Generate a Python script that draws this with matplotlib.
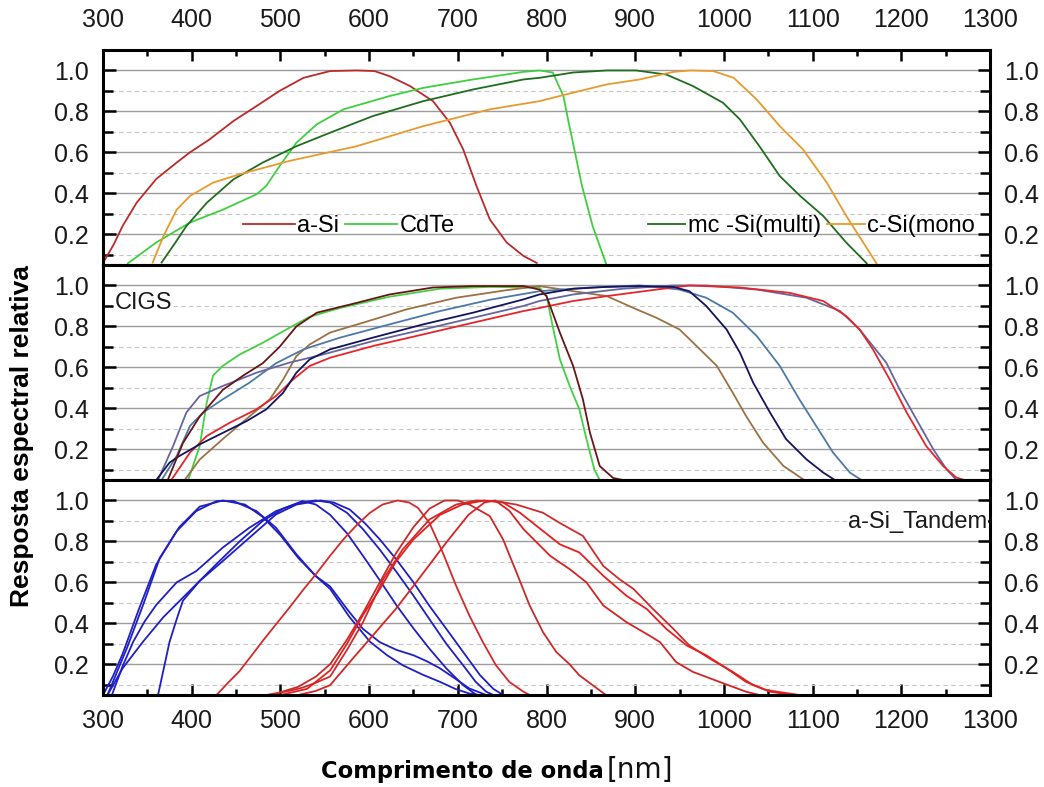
import matplotlib
matplotlib.use('Agg')
import matplotlib.pyplot as plt
from matplotlib.ticker import FixedLocator, MultipleLocator

plt.rcParams['font.family'] = ['Liberation Sans', 'DejaVu Sans']

# ---- painel superior: tecnologias de silicio e CdTe ----
asi_nm = [300, 312, 322, 338, 360, 383, 398, 420, 447, 473, 499, 526, 556, 586, 606, 623, 646, 672, 691, 706, 721, 736, 755, 774, 789]
asi = [0.06, 0.15, 0.24, 0.355, 0.47, 0.55, 0.60, 0.663, 0.753, 0.826, 0.90, 0.964, 0.997, 1.0, 0.997, 0.972, 0.924, 0.85, 0.745, 0.615, 0.436, 0.273, 0.16, 0.094, 0.06]

cdte_nm = [328, 360, 398, 435, 473, 484, 499, 518, 541, 571, 623, 661, 717, 774, 792, 807, 819, 825, 833, 840, 852, 867]
cdte = [0.058, 0.16, 0.257, 0.32, 0.395, 0.436, 0.533, 0.647, 0.737, 0.81, 0.875, 0.915, 0.956, 0.993, 1.0, 0.99, 0.875, 0.745, 0.58, 0.436, 0.24, 0.058]

mcsi_nm = [366, 379, 394, 417, 447, 480, 518, 556, 604, 661, 717, 774, 792, 830, 868, 901, 935, 965, 999, 1018, 1040, 1063, 1086, 1112, 1138, 1161]
mcsi = [0.062, 0.143, 0.24, 0.354, 0.468, 0.55, 0.63, 0.696, 0.777, 0.85, 0.907, 0.956, 0.964, 0.99, 1.0, 1.0, 0.98, 0.924, 0.842, 0.761, 0.63, 0.484, 0.387, 0.289, 0.159, 0.058]

csi_nm = [356, 368, 383, 398, 424, 454, 510, 586, 661, 736, 792, 822, 868, 905, 943, 962, 988, 1011, 1037, 1063, 1089, 1116, 1138, 1157, 1172]
csi = [0.062, 0.19, 0.32, 0.387, 0.452, 0.493, 0.558, 0.63, 0.728, 0.81, 0.85, 0.883, 0.932, 0.956, 0.993, 1.0, 0.997, 0.964, 0.858, 0.728, 0.615, 0.452, 0.289, 0.16, 0.058]

# ---- painel do meio: amostras CIGS ----
cigs_green_nm = [396, 409, 417, 424, 435, 454, 480, 510, 533, 567, 623, 680, 736, 792, 800, 807, 815, 826, 837, 845, 854, 860]
cigs_green = [0.05, 0.216, 0.43, 0.56, 0.607, 0.663, 0.72, 0.793, 0.847, 0.89, 0.945, 0.984, 0.993, 0.99, 0.948, 0.80, 0.64, 0.51, 0.395, 0.25, 0.10, 0.05]

cigs_maroon_nm = [373, 390, 409, 435, 458, 480, 499, 518, 541, 586, 623, 672, 717, 774, 792, 800, 815, 830, 841, 849, 860, 875, 886]
cigs_maroon = [0.05, 0.23, 0.36, 0.49, 0.56, 0.62, 0.70, 0.80, 0.867, 0.915, 0.956, 0.99, 0.997, 0.997, 0.98, 0.948, 0.77, 0.607, 0.444, 0.28, 0.118, 0.06, 0.05]

cigs_tan_nm = [392, 409, 435, 465, 488, 503, 518, 533, 556, 593, 642, 698, 755, 792, 830, 868, 898, 924, 950, 973, 992, 1010, 1025, 1044, 1067, 1089]
cigs_tan = [0.05, 0.15, 0.25, 0.36, 0.444, 0.54, 0.655, 0.712, 0.77, 0.818, 0.883, 0.94, 0.977, 0.997, 0.972, 0.948, 0.89, 0.842, 0.785, 0.688, 0.607, 0.476, 0.362, 0.233, 0.119, 0.054]

cigs_steel_nm = [366, 383, 398, 413, 435, 465, 495, 526, 567, 623, 680, 736, 792, 849, 905, 950, 980, 1010, 1037, 1063, 1085, 1104, 1123, 1142, 1155]
cigs_steel = [0.05, 0.167, 0.314, 0.38, 0.444, 0.525, 0.62, 0.688, 0.745, 0.81, 0.875, 0.93, 0.972, 0.99, 1.0, 0.98, 0.94, 0.867, 0.753, 0.607, 0.444, 0.314, 0.184, 0.086, 0.05]

cigs_navy_nm = [360, 375, 386, 409, 435, 462, 484, 503, 518, 533, 556, 604, 661, 717, 774, 792, 830, 868, 905, 943, 961, 980, 1003, 1018, 1033, 1052, 1070, 1093, 1112, 1125]
cigs_navy = [0.05, 0.135, 0.167, 0.224, 0.28, 0.338, 0.395, 0.476, 0.574, 0.639, 0.688, 0.745, 0.81, 0.867, 0.932, 0.956, 0.984, 0.993, 0.997, 0.993, 0.972, 0.90, 0.785, 0.672, 0.525, 0.379, 0.25, 0.151, 0.086, 0.05]

cigs_slate_nm = [362, 379, 394, 409, 435, 473, 510, 548, 604, 661, 717, 774, 792, 830, 886, 943, 980, 1037, 1093, 1131, 1153, 1168, 1183, 1198, 1217, 1236, 1251, 1262]
cigs_slate = [0.05, 0.216, 0.38, 0.46, 0.509, 0.574, 0.623, 0.663, 0.728, 0.785, 0.842, 0.9, 0.924, 0.956, 0.984, 1.0, 1.0, 0.98, 0.94, 0.875, 0.785, 0.704, 0.623, 0.493, 0.346, 0.2, 0.102, 0.05]

cigs_red_nm = [377, 398, 417, 443, 473, 495, 514, 533, 556, 604, 661, 717, 774, 792, 830, 868, 924, 961, 1018, 1074, 1112, 1138, 1153, 1168, 1187, 1206, 1228, 1247, 1262, 1271]
cigs_red = [0.05, 0.184, 0.265, 0.33, 0.395, 0.46, 0.54, 0.607, 0.647, 0.704, 0.761, 0.818, 0.875, 0.89, 0.924, 0.948, 0.98, 1.0, 0.99, 0.964, 0.924, 0.85, 0.785, 0.688, 0.54, 0.38, 0.216, 0.119, 0.062, 0.05]

# ---- painel inferior: a-Si tandem (celula de topo em azul, de base em vermelho) ----
top1_nm = [300, 311, 322, 341, 360, 383, 405, 428, 447, 473, 495, 518, 540, 556, 575, 593, 612, 631, 650, 665, 680, 697, 713, 732]
top1 = [0.05, 0.14, 0.25, 0.476, 0.688, 0.85, 0.948, 0.997, 0.997, 0.948, 0.867, 0.737, 0.63, 0.58, 0.47, 0.373, 0.308, 0.27, 0.244, 0.215, 0.18, 0.13, 0.082, 0.05]

top2_nm = [305, 327, 346, 364, 386, 409, 435, 460, 480, 500, 520, 540, 556, 578, 601, 620, 638, 660, 680, 697, 713, 725]
top2 = [0.05, 0.28, 0.5, 0.72, 0.87, 0.97, 1.0, 0.98, 0.92, 0.83, 0.72, 0.63, 0.568, 0.43, 0.31, 0.245, 0.195, 0.15, 0.114, 0.08, 0.057, 0.05]

top3_nm = [305, 322, 345, 368, 398, 428, 454, 480, 503, 525, 540, 556, 575, 593, 612, 631, 650, 668, 687, 706, 721]
top3 = [0.05, 0.18, 0.31, 0.43, 0.56, 0.69, 0.80, 0.90, 0.96, 0.997, 0.98, 0.93, 0.84, 0.73, 0.61, 0.487, 0.375, 0.276, 0.18, 0.098, 0.05]

top4_nm = [310, 322, 334, 347, 360, 383, 405, 435, 465, 495, 522, 540, 556, 575, 593, 612, 631, 650, 668, 687, 706, 720, 732, 740]
top4 = [0.05, 0.19, 0.31, 0.41, 0.49, 0.60, 0.655, 0.77, 0.867, 0.948, 0.99, 1.0, 0.99, 0.94, 0.86, 0.76, 0.65, 0.535, 0.42, 0.30, 0.195, 0.115, 0.066, 0.05]

top5_nm = [362, 368, 375, 383, 390, 409, 435, 465, 495, 518, 545, 560, 578, 595, 612, 631, 650, 668, 687, 706, 725, 740, 751]
top5 = [0.05, 0.17, 0.31, 0.42, 0.51, 0.607, 0.704, 0.818, 0.932, 0.98, 1.0, 0.99, 0.956, 0.89, 0.81, 0.71, 0.6, 0.485, 0.373, 0.26, 0.147, 0.08, 0.05]

bot1_nm = [428, 441, 454, 467, 480, 495, 510, 525, 540, 556, 571, 586, 601, 615, 632, 645, 655, 668, 683, 698, 713, 728, 743, 758, 774, 781]
bot1 = [0.05, 0.11, 0.167, 0.24, 0.314, 0.395, 0.476, 0.56, 0.64, 0.73, 0.81, 0.88, 0.94, 0.98, 1.0, 0.99, 0.964, 0.89, 0.746, 0.584, 0.438, 0.31, 0.195, 0.114, 0.066, 0.05]

bot2_nm = [490, 520, 540, 556, 575, 593, 612, 630, 650, 668, 685, 700, 713, 736, 751, 766, 781, 796, 811, 826, 837, 852, 867]
bot2 = [0.05, 0.09, 0.14, 0.2, 0.32, 0.45, 0.6, 0.74, 0.87, 0.96, 1.0, 1.0, 0.98, 0.924, 0.81, 0.65, 0.487, 0.357, 0.26, 0.2, 0.146, 0.098, 0.05]

bot3_nm = [484, 510, 525, 540, 556, 575, 593, 616, 638, 668, 698, 721, 745, 766, 796, 815, 841, 864, 882, 898, 920, 943, 961, 984, 1010, 1033, 1052, 1078]
bot3 = [0.05, 0.07, 0.086, 0.11, 0.14, 0.27, 0.405, 0.616, 0.762, 0.907, 0.98, 1.0, 0.995, 0.98, 0.94, 0.89, 0.827, 0.68, 0.616, 0.568, 0.47, 0.373, 0.292, 0.228, 0.163, 0.098, 0.066, 0.05]

bot4_nm = [500, 530, 556, 575, 593, 612, 630, 650, 680, 705, 730, 751, 770, 789, 815, 837, 864, 890, 913, 935, 958, 980, 1003, 1025, 1048, 1085]
bot4 = [0.05, 0.08, 0.17, 0.30, 0.44, 0.567, 0.7, 0.81, 0.93, 0.98, 1.0, 0.99, 0.94, 0.875, 0.786, 0.746, 0.632, 0.535, 0.47, 0.373, 0.292, 0.244, 0.18, 0.114, 0.074, 0.05]

bot5_nm = [520, 540, 556, 580, 604, 630, 653, 687, 712, 730, 742, 758, 774, 804, 815, 826, 845, 864, 890, 916, 928, 946, 965, 995, 1025, 1040]
bot5 = [0.05, 0.07, 0.098, 0.22, 0.34, 0.47, 0.60, 0.795, 0.93, 0.99, 1.0, 0.95, 0.86, 0.73, 0.697, 0.665, 0.6, 0.487, 0.406, 0.34, 0.308, 0.211, 0.163, 0.114, 0.066, 0.05]

x_ticks = [300, 400, 500, 600, 700, 800, 900, 1000, 1100, 1200, 1300]
y_ticks = [0.2, 0.4, 0.6, 0.8, 1.0]
y_minor = [0.1, 0.3, 0.5, 0.7, 0.9]

fig = plt.figure(figsize=(10.44, 7.87), dpi=100)
left, width, height = 0.0987, 0.8496, 0.2732
ax_top = fig.add_axes([left, 0.6633, width, height])
ax_mid = fig.add_axes([left, 0.3901, width, height])
ax_bot = fig.add_axes([left, 0.1169, width, height])

for ax in (ax_top, ax_mid, ax_bot):
    ax.set_xlim(300, 1300)
    ax.set_ylim(0.05, 1.1)
    ax.xaxis.set_major_locator(FixedLocator(x_ticks))
    ax.xaxis.set_minor_locator(MultipleLocator(50))
    ax.yaxis.set_major_locator(FixedLocator(y_ticks))
    ax.yaxis.set_minor_locator(FixedLocator(y_minor))
    ax.set_yticklabels(['%.1f' % v for v in y_ticks])
    ax.set_axisbelow(True)
    ax.grid(True, which='major', axis='y', color='#9c9c9c', lw=1.0)
    ax.grid(True, which='minor', axis='y', color='#c6c6c6', lw=0.8, ls=(0, (4, 3)))
    for s in ax.spines.values():
        s.set_linewidth(2.2)
    ax.tick_params(axis='y', which='both', direction='in', left=True, right=True,
                   labelleft=True, labelright=True, labelsize=18, width=1.8,
                   colors='black', labelcolor='#1a1a1a')
    ax.tick_params(axis='y', which='major', length=9, pad=10)
    ax.tick_params(axis='y', which='minor', length=7)
    ax.tick_params(axis='x', which='both', direction='in', top=False, bottom=False,
                   labeltop=False, labelbottom=False, labelsize=18, width=1.8,
                   labelcolor='#1a1a1a')
    ax.tick_params(axis='x', which='major', length=8)
    ax.tick_params(axis='x', which='minor', length=4.5)

ax_top.tick_params(axis='x', which='both', top=True, labeltop=True, pad=13)
ax_bot.tick_params(axis='x', which='both', bottom=True, labelbottom=True, pad=10)

lw = 1.3
l_asi, = ax_top.plot(asi_nm, asi, color='#bb2a2a', lw=lw)
l_cdte, = ax_top.plot(cdte_nm, cdte, color='#3fcf3f', lw=lw)
l_mc, = ax_top.plot(mcsi_nm, mcsi, color='#1f6e1f', lw=lw)
l_c, = ax_top.plot(csi_nm, csi, color='#e89a2c', lw=lw)

leg_kw = dict(frameon=False, loc='center left', borderpad=0, borderaxespad=0,
              handletextpad=0.1, columnspacing=0.25, ncol=2,
              prop={'size': 17, 'family': ['Liberation Sans', 'DejaVu Sans']})
leg1 = ax_top.legend([l_asi, l_cdte], ['a-Si', 'CdTe'], bbox_to_anchor=(0.158, 0.181),
                     handlelength=2.2, **leg_kw)
ax_top.add_artist(leg1)
ax_top.legend([l_mc, l_c], ['mc -Si(multi)', 'c-Si(mono'], bbox_to_anchor=(0.614, 0.181),
              handlelength=1.6, **leg_kw)

ax_mid.plot(cigs_green_nm, cigs_green, color='#44d044', lw=lw)
ax_mid.plot(cigs_tan_nm, cigs_tan, color='#9a7244', lw=lw)
ax_mid.plot(cigs_steel_nm, cigs_steel, color='#4d79a6', lw=lw)
ax_mid.plot(cigs_slate_nm, cigs_slate, color='#66669e', lw=lw)
ax_mid.plot(cigs_red_nm, cigs_red, color='#e4262a', lw=lw)
ax_mid.plot(cigs_navy_nm, cigs_navy, color='#14145e', lw=lw)
ax_mid.plot(cigs_maroon_nm, cigs_maroon, color='#6a1515', lw=lw)
ax_mid.text(313, 0.915, 'CIGS', fontsize=17, color='#1a1a1a', ha='left', va='center',
            bbox=dict(facecolor='white', edgecolor='none', pad=0.5))

for xs, ys in [(top1_nm, top1), (top2_nm, top2), (top3_nm, top3), (top4_nm, top4), (top5_nm, top5)]:
    ax_bot.plot(xs, ys, color='#1f1fc4', lw=lw)
for xs, ys, c in [(bot1_nm, bot1, '#d42a2a'), (bot2_nm, bot2, '#c82a2a'), (bot3_nm, bot3, '#cf2b2b'),
                  (bot4_nm, bot4, '#e81e1e'), (bot5_nm, bot5, '#d42424')]:
    ax_bot.plot(xs, ys, color=c, lw=lw)
ax_bot.text(1297, 0.897, 'a-Si_Tandem', fontsize=17, color='#1a1a1a', ha='right', va='center',
            bbox=dict(facecolor='white', edgecolor='none', pad=0.5))

fig.text(0.021, 0.4454, 'Resposta espectral relativa', rotation=90, ha='center', va='center',
         fontsize=19, fontweight='bold', color='black')
fig.text(0.5785, 0.0115, 'Comprimento de onda', ha='right', va='baseline',
         fontsize=16.3, fontweight='bold', family='DejaVu Sans', color='black')
fig.text(0.5815, 0.0115, '[nm]', ha='left', va='baseline',
         fontsize=20, family='DejaVu Sans', color='#111111')

fig.savefig('out.png', dpi=100)
